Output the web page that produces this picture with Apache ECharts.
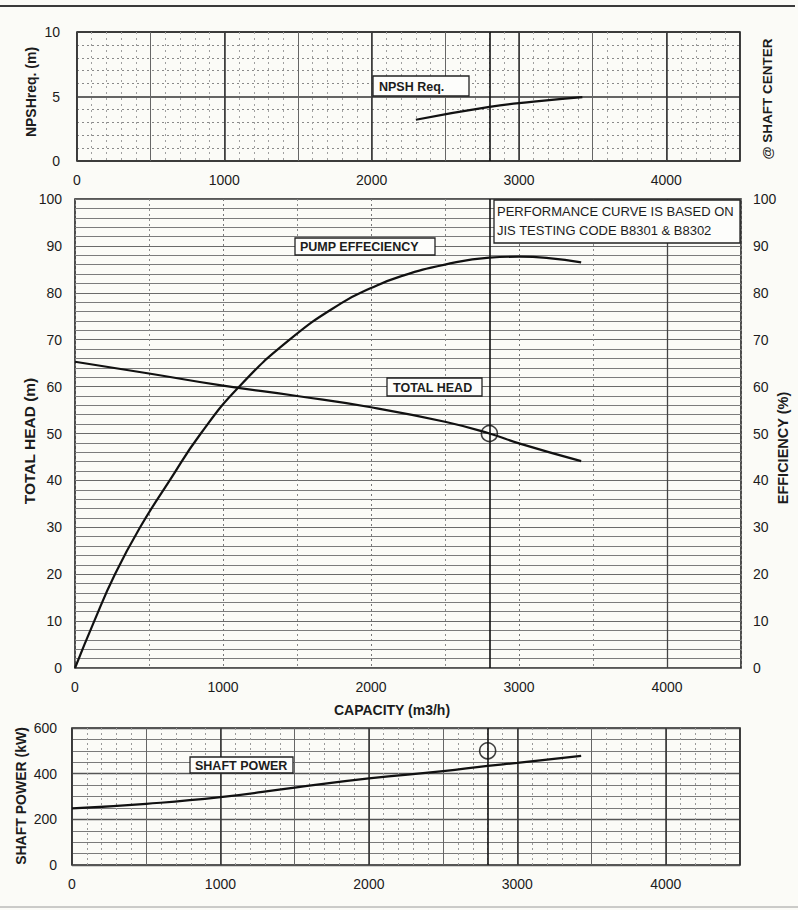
<!DOCTYPE html>
<html>
<head>
<meta charset="utf-8">
<script src="https://cdn.jsdelivr.net/npm/echarts@6/dist/echarts.min.js"></script>
<style>
  html, body { margin: 0; padding: 0; background: #fbfbf7; }
  #chart { width: 798px; height: 910px; }
</style>
</head>
<body>
<div id="chart"></div>
<script>
// Capacity axis (m3/h), shared by all three panels
const capacityTicks = [0, 1000, 2000, 3000, 4000];
const capacityMax = 4500;

// NPSH required (m)
const npshCapacity = [2300, 2800, 3100, 3430];
const npshRequired = [3.2, 4.2, 4.6, 4.95];

// Total head (m)
const headCapacity = [0, 500, 1000, 1500, 2000, 2500, 2800, 3000, 3420];
const totalHead = [65.3, 62.8, 60.2, 58.0, 55.6, 52.5, 50.0, 47.9, 44.1];

// Pump efficiency (%)
const effCapacity = [0, 130, 270, 440, 640, 850, 1110, 1450, 1800, 2000, 2200, 2500, 2800, 3000, 3200, 3420];
const efficiency = [0, 10, 20, 30, 40, 50, 60, 70, 77.8, 81.0, 83.5, 86.0, 87.5, 87.7, 87.4, 86.5];

// Shaft power (kW)
const powerCapacity = [0, 500, 1000, 1500, 2000, 2500, 2800, 3000, 3430];
const shaftPower = [248, 268, 297, 339, 379, 411, 434, 447, 478];

// Duty point
const dutyHeadPoint = [2800, 50];
const dutyPowerPoint = [2800, 500];
const dutyCapacity = [2800];

const FONT = 'Arial, "Liberation Sans", Helvetica, sans-serif';
const INK = '#1c1c1c';

const pairs = (xs, ys) => xs.map((x, i) => [x, ys[i]]);

const chart = echarts.init(document.getElementById('chart'), null, { renderer: 'svg' });

const tickLabel = {
  fontFamily: FONT, fontSize: 14, color: INK,
  formatter: v => (capacityTicks.indexOf(v) >= 0 ? String(v) : '')
};

// Grid-only capacity axis (no labels/ticks), used for layered rulings
function rulingX(gridIndex, interval, lineStyle) {
  return {
    type: 'value', gridIndex, position: 'bottom', min: 0, max: capacityMax, interval,
    axisLine: { show: false }, axisTick: { show: false }, axisLabel: { show: false },
    splitLine: { show: true, lineStyle }
  };
}
function labeledX(gridIndex, lineStyle, margin) {
  return {
    type: 'value', gridIndex, position: 'bottom', min: 0, max: capacityMax, interval: 1000,
    axisLine: { show: false }, axisTick: { show: false },
    axisLabel: Object.assign({ margin, showMaxLabel: false }, tickLabel),
    splitLine: { show: true, lineStyle }
  };
}

const dutyLine = {
  silent: true, symbol: 'none', label: { show: false },
  lineStyle: { color: '#111', width: 1.6, type: 'solid' },
  data: dutyCapacity.map(q => ({ xAxis: q }))
};

function box(x, y, w, h) {
  return { type: 'rect', shape: { x, y, width: w, height: h }, z: 50,
    style: { fill: '#fdfdfb', stroke: '#222', lineWidth: 1.3 } };
}
function boxText(x, y, text, size, weight) {
  return { type: 'text', x, y, z: 51,
    style: { text, fill: INK, font: `${weight || 'bold'} ${size}px ${FONT}`, verticalAlign: 'middle' } };
}
// Axis title written bottom-to-top
function vText(x, y, text, size) {
  return { type: 'text', x, y, rotation: Math.PI / 2, z: 51,
    style: { text, fill: INK, font: `bold ${size}px ${FONT}`, align: 'center', verticalAlign: 'middle' } };
}

const curveStyle = { color: '#111', width: 2.2 };

const option = {
  backgroundColor: '#fbfbf7',
  animation: false,
  grid: [
    { left: 77, top: 32, width: 663, height: 129, show: true, borderColor: '#222', borderWidth: 1.6, backgroundColor: 'transparent' },
    { left: 75, top: 199, width: 666, height: 469, show: true, borderColor: '#222', borderWidth: 1.6, backgroundColor: 'transparent' },
    { left: 72, top: 728, width: 668, height: 137, show: true, borderColor: '#222', borderWidth: 1.6, backgroundColor: 'transparent' }
  ],
  xAxis: [
    // NPSH panel rulings
    rulingX(0, 100, { color: '#a0a0a0', width: 1, type: [2, 4] }),
    rulingX(0, 500, { color: '#666', width: 1 }),
    labeledX(0, { color: '#333', width: 1.5 }, 12),
    // Head / efficiency panel rulings
    rulingX(1, 500, { color: '#8a8a8a', width: 1, type: [2, 3] }),
    labeledX(1, { color: '#777', width: 1, type: [2, 3] }, 12),
    // Shaft power panel rulings
    rulingX(2, 100, { color: '#9a9a9a', width: 1, type: [2, 3] }),
    rulingX(2, 500, { color: '#666', width: 1 }),
    labeledX(2, { color: '#333', width: 1.5 }, 12)
  ],
  yAxis: [
    {
      type: 'value', gridIndex: 0, min: 0, max: 10, interval: 5,
      axisLine: { show: false }, axisTick: { show: false },
      axisLabel: { fontFamily: FONT, fontSize: 14, color: INK, margin: 17 },
      splitLine: { show: true, lineStyle: { color: '#333', width: 1.5 } },
      minorTick: { show: false, splitNumber: 5 },
      minorSplitLine: { show: true, lineStyle: { color: '#8a8a8a', width: 1, type: [2, 3] } }
    },
    {
      type: 'value', gridIndex: 1, min: 0, max: 100, interval: 10,
      axisLine: { show: false }, axisTick: { show: false },
      axisLabel: { fontFamily: FONT, fontSize: 14, color: INK, margin: 13 },
      splitLine: { show: true, lineStyle: { color: '#6a6a6a', width: 1.2 } },
      minorTick: { show: false, splitNumber: 5 },
      minorSplitLine: { show: true, lineStyle: { color: '#7c7c7c', width: 1.1 } }
    },
    {
      type: 'value', gridIndex: 1, position: 'right', min: 0, max: 100, interval: 10,
      axisLine: { show: false }, axisTick: { show: false },
      axisLabel: { fontFamily: FONT, fontSize: 14, color: INK, margin: 12 },
      splitLine: { show: false }
    },
    {
      type: 'value', gridIndex: 2, min: 0, max: 600, interval: 200,
      axisLine: { show: false }, axisTick: { show: false },
      axisLabel: { fontFamily: FONT, fontSize: 14, color: INK, margin: 15 },
      splitLine: { show: true, lineStyle: { color: '#555', width: 1.3 } },
      minorTick: { show: false, splitNumber: 4 },
      minorSplitLine: { show: true, lineStyle: { color: '#7a7a7a', width: 1.1 } }
    }
  ],
  series: [
    {
      name: 'NPSH Req.', type: 'line', xAxisIndex: 2, yAxisIndex: 0, smooth: 0.5,
      showSymbol: false, data: pairs(npshCapacity, npshRequired),
      lineStyle: curveStyle, z: 10, markLine: dutyLine
    },
    {
      name: 'TOTAL HEAD', type: 'line', xAxisIndex: 4, yAxisIndex: 1, smooth: 0.5,
      showSymbol: false, data: pairs(headCapacity, totalHead),
      lineStyle: curveStyle, z: 10, markLine: dutyLine
    },
    {
      name: 'PUMP EFFECIENCY', type: 'line', xAxisIndex: 4, yAxisIndex: 2, smooth: 0.5,
      showSymbol: false, data: pairs(effCapacity, efficiency),
      lineStyle: curveStyle, z: 10,
      // heavier ruling at 4000 m3/h
      markLine: {
        silent: true, symbol: 'none', label: { show: false },
        lineStyle: { color: '#444', width: 1.3, type: 'solid' },
        data: [{ xAxis: 4000 }]
      }
    },
    {
      name: 'SHAFT POWER', type: 'line', xAxisIndex: 7, yAxisIndex: 3, smooth: 0.5,
      showSymbol: false, data: pairs(powerCapacity, shaftPower),
      lineStyle: curveStyle, z: 10, markLine: dutyLine
    },
    {
      type: 'scatter', xAxisIndex: 4, yAxisIndex: 1, data: [dutyHeadPoint],
      symbol: 'circle', symbolSize: 16, z: 11,
      itemStyle: { color: 'rgba(0,0,0,0)', borderColor: '#111', borderWidth: 1.6 }
    },
    {
      type: 'scatter', xAxisIndex: 7, yAxisIndex: 3, data: [dutyPowerPoint],
      symbol: 'circle', symbolSize: 16, z: 11,
      itemStyle: { color: 'rgba(0,0,0,0)', borderColor: '#111', borderWidth: 1.6 }
    }
  ],
  graphic: [
    // page frame rules
    { type: 'line', shape: { x1: 0, y1: 6, x2: 795, y2: 6 }, style: { stroke: '#3a3a3a', lineWidth: 2 } },
    { type: 'line', shape: { x1: 0, y1: 907, x2: 798, y2: 907 }, style: { stroke: '#9a9a9a', lineWidth: 1 } },
    // axis titles
    vText(31, 92, 'NPSHreq. (m)', 14),
    vText(767, 99, '@ SHAFT CENTER', 13.5),
    vText(29, 441, 'TOTAL HEAD (m)', 15.5),
    vText(783, 448, 'EFFICIENCY (%)', 14.5),
    vText(21, 796, 'SHAFT POWER (kW)', 14),
    { type: 'text', x: 392, y: 710, z: 51,
      style: { text: 'CAPACITY (m3/h)', fill: INK, font: `bold 14px ${FONT}`, align: 'center', verticalAlign: 'middle' } },
    // curve tags
    box(373, 76, 96, 20), boxText(379, 87, 'NPSH Req.', 12.5),
    box(295, 238, 140, 17), boxText(300, 247, 'PUMP EFFECIENCY', 12.5),
    box(387, 378, 95, 18), boxText(393, 388, 'TOTAL HEAD', 12.5),
    box(190, 757, 103, 16), boxText(195, 766, 'SHAFT POWER', 12.5),
    box(494, 200, 246, 43),
    boxText(497, 211, 'PERFORMANCE CURVE IS BASED ON', 13, 'normal'),
    boxText(497, 230, 'JIS TESTING CODE B8301 & B8302', 13, 'normal')
  ]
};

chart.setOption(option);
</script>
</body>
</html>
